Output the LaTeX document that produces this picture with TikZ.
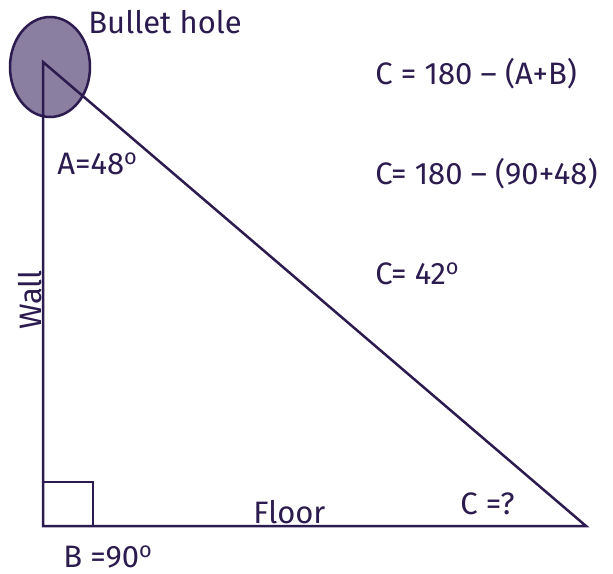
\documentclass[tikz,border=0pt]{standalone}
\usepackage{fontspec}
\setmainfont{Fira Sans}
\usepackage{tikz}
\usetikzlibrary{positioning}
\definecolor{ink}{HTML}{2B1B4E}
\definecolor{holefill}{HTML}{8A7FA0}

\begin{document}
\begin{tikzpicture}[
  x=0.5pt, y=-0.5pt,
  font=\fontsize{15.5}{18}\selectfont,
  edge/.style={draw=ink, line width=1.25pt},
  lbl/.style={text=ink, inner sep=0pt, anchor=west},
  hole/.style={draw=ink, line width=1.25pt, fill=holefill},
]
\useasboundingbox (0,0) rectangle (613,573);
% ================= bullet hole =================
\filldraw[hole] (50,67) ellipse [x radius=40, y radius=50];
\node[lbl] (holelbl) at (88,22) {Bullet hole};
% ================= triangle =================
\coordinate (A) at (43,62);
\coordinate (B) at (43,526);
\coordinate (C) at (586,526);
\draw[edge] (A) -- (B) -- (C) -- cycle;
\draw[edge] (B) ++(0,-44) -- ++(50,0) -- ++(0,44);
% ================= angle labels =================
\node[lbl] (angA) at (57,164) {A=48\textsuperscript{o}};
\node[lbl] (angB) at (63,557) {B =90\textsuperscript{o}};
\node[lbl] (angC) at (460,504) {C =?};
\node[text=ink, inner sep=0pt, rotate=90] (wall) at (30,300) {Wall};
\node[lbl] (floor) at (253,512) {Floor};
% ================= working =================
\node[lbl] (eq1) at (375,74) {C = 180 -- (A+B)};
\node[lbl] (eq2) at (375,174) {C= 180 -- (90+48)};
\node[lbl] (eq3) at (375,274) {C= 42\textsuperscript{o}};
\end{tikzpicture}
\end{document}
